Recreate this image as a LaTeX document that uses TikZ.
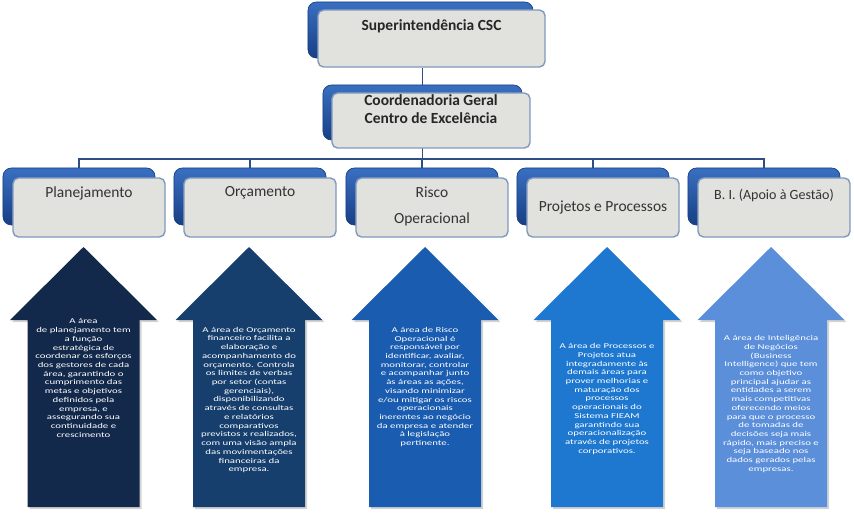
\documentclass[tikz,border=0pt]{standalone}
\usepackage{fontspec}
\setmainfont{Carlito}
\newfontfamily\arrowfont[FakeStretch=1.45]{Carlito}
\usetikzlibrary{positioning, shadows, backgrounds}
\definecolor{cnavy}{HTML}{13294B}
\definecolor{cdeep}{HTML}{163F6E}
\definecolor{cmid}{HTML}{1A5CB0}
\definecolor{cbright}{HTML}{1E78D0}
\definecolor{clight}{HTML}{5B8FDA}
\definecolor{cbacktop}{HTML}{3A6FC0}
\definecolor{cbackbot}{HTML}{173F85}
\definecolor{cface}{HTML}{E1E1DD}
\definecolor{cframe}{HTML}{8099BE}
\definecolor{cline}{HTML}{2D4F86}
\tikzset{
  every picture/.style={line width=1pt},
  backbox/.style={rounded corners=6pt, top color=cbacktop, bottom color=cbackbot, draw=cbackbot, line width=0.5pt, inner sep=0pt},
  frontbox/.style={draw=cframe, fill=cface, rounded corners=4pt, line width=1pt, inner sep=0pt},
  title/.style={font=\bfseries\fontsize{11}{13}\selectfont, text=black!85, align=center},
  area/.style={font=\fontsize{11}{13}\selectfont, text=black!80, align=center},
  tree/.style={draw=cline, line width=1pt},
  note/.style={text=white, align=center, font=\arrowfont\fontsize{5.3}{6.2}\selectfont},
  arrowshape/.style={fill=#1, drop shadow={opacity=0.35, shadow xshift=1.5pt, shadow yshift=-1.5pt}},
}

\begin{document}
\begin{tikzpicture}[x=0.025cm, y=-0.025cm]
  \useasboundingbox (0,0) rectangle (854,515);
  % top of the chart
  \node[backbox, minimum width=5.625cm, minimum height=1.4cm] (sup-b) at (420.5,30) {};
  \node[frontbox, minimum width=5.675cm, minimum height=1.425cm] (sup) at (431.5,38.5) {};
  \node[title] (sup-t) at (431.5,26) {Superintendência CSC};
  \node[backbox, minimum width=4.975cm, minimum height=1.375cm] (cg-b) at (422.5,112.5) {};
  \node[frontbox, minimum width=4.95cm, minimum height=1.375cm] (cg) at (431,120.5) {};
  \node[title] (cg-t) at (431,109) {Coordenadoria Geral\\Centro de Excelência};
  % the five areas
  \foreach \x/\n in {79/plan, 250/orc, 422/risco, 593/proj, 764/bi}{
    \node[backbox, minimum width=3.8cm, minimum height=1.425cm] (\n-b) at (\x,196.5) {};
    \node[frontbox, minimum width=3.8cm, minimum height=1.475cm] (\n) at (\x+10,207.5) {};
  }
  \node[area] (plan-t) at (89,193) {Planejamento};
  \node[area] (orc-t) at (260,193) {Orçamento};
  \node[area] (risco-t) at (432,206.5) {Risco\\[6pt]Operacional};
  \node[area] (proj-t) at (603,207) {Projetos e Processos};
  \node[area, font=\fontsize{10}{12}\selectfont] (bi-t) at (774,195) {B. I. (Apoio à Gestão)};
  % connectors
  \begin{scope}[on background layer]
    \coordinate (bus) at (422.5,159);
    \draw[tree] (cg-b.north) -- (cg-b.north |- sup.south);
    \draw[tree] (cg-b) -- (bus);
    \draw[tree] (plan-b.north) |- (bus) -| (bi-b.north);
    \foreach \n in {orc, risco, proj}
      \draw[tree] (\n-b.north) -- (\n-b.north |- bus);
  \end{scope}
  % arrows with the descriptions
  \foreach \x/\c in {83.5/cnavy, 249/cdeep, 425/cmid, 607/cbright, 771/clight}
    \path[arrowshape=\c] (\x,247) -- (\x+73.5,320) -- (\x+56,320) -- (\x+56,507)
      -- (\x-56,507) -- (\x-56,320) -- (\x-73.5,320) -- cycle;
  \node[note] (plan-d) at (83.5,378) {A área\\de planejamento tem\\a função\\estratégica de\\coordenar os esforços\\dos gestores de cada\\área, garantindo o\\cumprimento das\\metas e objetivos\\definidos pela\\empresa, e\\assegurando sua\\continuidade e\\crescimento};
  \node[note] (orc-d) at (249,400) {A área de Orçamento\\financeiro facilita a\\elaboração e\\acompanhamento do\\orçamento. Controla\\os limites de verbas\\por setor (contas\\gerenciais),\\disponibilizando\\através de consultas\\e relatórios\\comparativos\\previstos x realizados,\\com uma visão ampla\\das movimentações\\financeiras da\\empresa.};
  \node[note] (risco-d) at (425,387) {A área de Risco\\Operacional é\\responsável por\\identificar, avaliar,\\monitorar, controlar\\e acompanhar junto\\às áreas as ações,\\visando minimizar\\e/ou mitigar os riscos\\operacionais\\inerentes ao negócio\\da empresa e atender\\à legislação\\pertinente.};
  \node[note] (proj-d) at (607,399) {A área de Processos e\\Projetos atua\\integradamente às\\demais áreas para\\prover melhorias e\\maturação dos\\processos\\operacionais do\\Sistema FIEAM\\garantindo sua\\operacionalização\\através de projetos\\corporativos.};
  \node[note] (bi-d) at (771,404) {A área de Inteligência\\de Negócios\\(Business\\Intelligence) que tem\\como objetivo\\principal ajudar as\\entidades a serem\\mais competitivas\\oferecendo meios\\para que o processo\\de tomadas de\\decisões seja mais\\rápido, mais preciso e\\seja baseado nos\\dados gerados pelas\\empresas.};
\end{tikzpicture}
\end{document}
